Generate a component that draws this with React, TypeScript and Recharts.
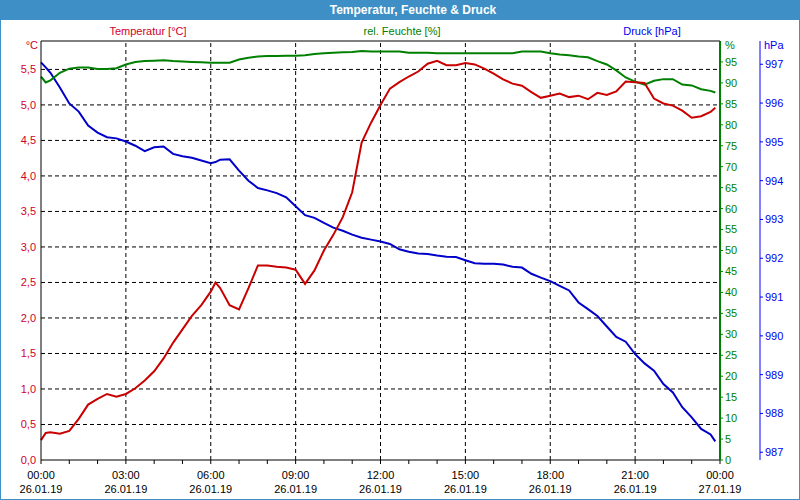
import React from 'react';
import { LineChart, Line, XAxis, YAxis, ReferenceLine } from 'recharts';

// time of day in minutes after 26.01.19 00:00
const timeMinutes = [
  0, 10, 20, 40, 60, 80, 100, 120, 140, 160,
  180, 200, 220, 240, 260, 280, 300, 320, 340, 360,
  370, 380, 400, 420, 440, 460, 480, 500, 520, 540,
  560, 580, 600, 620, 640, 660, 680, 700, 720, 740,
  760, 780, 800, 820, 840, 860, 880, 900, 920, 940,
  960, 980, 1000, 1020, 1040, 1060, 1080, 1100, 1120, 1140,
  1160, 1180, 1200, 1220, 1240, 1260, 1280, 1300, 1320, 1340,
  1360, 1380, 1400, 1420, 1430,
];

const temperature = [
  0.28, 0.38, 0.39, 0.37, 0.41, 0.58, 0.78, 0.86, 0.93, 0.89,
  0.93, 1.01, 1.12, 1.25, 1.43, 1.65, 1.84, 2.03, 2.18, 2.37,
  2.5, 2.42, 2.18, 2.12, 2.42, 2.74, 2.74, 2.72, 2.71, 2.68,
  2.48, 2.67, 2.95, 3.17, 3.42, 3.77, 4.47, 4.75, 5.0, 5.23,
  5.32, 5.4, 5.47, 5.58, 5.62, 5.56, 5.56, 5.59, 5.57, 5.51,
  5.44, 5.36, 5.3, 5.27, 5.18, 5.1, 5.13, 5.16, 5.11, 5.13,
  5.08, 5.17, 5.14, 5.19, 5.33, 5.32, 5.31, 5.09, 5.02, 4.99,
  4.92, 4.82, 4.84, 4.9, 4.96,
];

const humidity = [
  91.5, 90.1, 90.6, 92.4, 93.4, 93.7, 93.7, 93.3, 93.3, 93.5,
  94.4, 95.0, 95.2, 95.3, 95.4, 95.2, 95.1, 95.0, 94.9, 94.8,
  94.8, 94.8, 94.8, 95.6, 96.0, 96.3, 96.4, 96.4, 96.5, 96.5,
  96.6, 96.9, 97.1, 97.2, 97.3, 97.4, 97.6, 97.5, 97.5, 97.5,
  97.5, 97.2, 97.2, 97.2, 97.1, 97.1, 97.1, 97.1, 97.1, 97.1,
  97.1, 97.1, 97.1, 97.5, 97.5, 97.5, 97.1, 96.8, 96.6, 96.3,
  96.1, 95.2, 94.4, 93.0, 91.3, 90.3, 89.6, 90.5, 90.9, 90.9,
  89.6, 89.4, 88.5, 88.1, 87.7,
];

const pressure = [
  997.05, 996.92, 996.78, 996.4, 995.99, 995.78, 995.42, 995.24, 995.12, 995.09,
  995.01, 994.9, 994.76, 994.86, 994.88, 994.69, 994.63, 994.59, 994.52, 994.45,
  994.48, 994.54, 994.55, 994.26, 994.0, 993.81, 993.75, 993.68, 993.57, 993.34,
  993.11, 993.04, 992.91, 992.79, 992.71, 992.61, 992.53, 992.48, 992.43, 992.37,
  992.23, 992.17, 992.12, 992.11, 992.07, 992.04, 992.03, 991.95, 991.87, 991.86,
  991.86, 991.84, 991.78, 991.76, 991.6, 991.5, 991.41, 991.29, 991.17, 990.86,
  990.69, 990.51, 990.24, 989.97, 989.85, 989.53, 989.29, 989.1, 988.76, 988.54,
  988.16, 987.9, 987.6, 987.46, 987.28,
];

const hourTicks = [
  0, 60, 120, 180, 240, 300, 360, 420, 480, 540, 600, 660, 720,
  780, 840, 900, 960, 1020, 1080, 1140, 1200, 1260, 1320, 1380, 1440,
];
const labelMinutes = [0, 180, 360, 540, 720, 900, 1080, 1260, 1440];
const timeLabels = ['00:00', '03:00', '06:00', '09:00', '12:00', '15:00', '18:00', '21:00', '00:00'];
const dateLabels = ['26.01.19', '26.01.19', '26.01.19', '26.01.19', '26.01.19', '26.01.19', '26.01.19', '26.01.19', '27.01.19'];
const gridMinutes = [180, 360, 540, 720, 900, 1080, 1260];

const tempTicks = [0, 0.5, 1, 1.5, 2, 2.5, 3, 3.5, 4, 4.5, 5, 5.5];
const humTicks = [0, 5, 10, 15, 20, 25, 30, 35, 40, 45, 50, 55, 60, 65, 70, 75, 80, 85, 90, 95];
const presTicks = [987, 988, 989, 990, 991, 992, 993, 994, 995, 996, 997];

const tempDomain = [0, 5.9];
const humDomain = [0, 100];
const presDomain = [986.8, 997.6];

const data = timeMinutes.map((t, i) => ({
  t,
  temp: temperature[i],
  hum: humidity[i],
  pres: pressure[i],
}));

const FONT = '"Liberation Sans", Arial, sans-serif';
const RED_TEXT = '#d0002a';
const RED = '#c80000';
const GREEN = '#008000';
const BLUE_TEXT = '#0000f0';
const BLUE = '#0000c8';
const FRAME = '#3d8fc6';

const TimeTick = (props: any) => {
  const { x, y, payload } = props;
  const i = labelMinutes.indexOf(payload.value);
  if (i < 0) return <g />;
  return (
    <g>
      <text x={x} y={y} dy={13} textAnchor="middle" fontSize={11} fontFamily={FONT} fill="#000">
        {timeLabels[i]}
      </text>
      <text x={x} y={y} dy={27} textAnchor="middle" fontSize={11} fontFamily={FONT} fill="#000">
        {dateLabels[i]}
      </text>
    </g>
  );
};

const textStyle = (left: number, top: number, width: number, color: string, align: any): React.CSSProperties => ({
  position: 'absolute',
  left,
  top,
  width,
  height: 14,
  lineHeight: '14px',
  fontSize: 11,
  fontFamily: FONT,
  color,
  textAlign: align,
  whiteSpace: 'nowrap',
});

export default function App() {
  return (
    <div
      style={{
        position: 'fixed',
        left: 0,
        top: 0,
        width: 800,
        height: 500,
        background: '#fff',
        overflow: 'hidden',
      }}
    >
      <div style={{ position: 'absolute', left: 0, top: 0 }}>
        <LineChart width={800} height={500} data={data} margin={{ top: 41, right: 0, bottom: 0, left: 0 }}>
          <XAxis
            dataKey="t"
            type="number"
            domain={[0, 1440]}
            ticks={hourTicks}
            interval={0}
            height={40}
            tickSize={4}
            tickMargin={2}
            axisLine={{ stroke: '#000', strokeWidth: 1 }}
            tickLine={{ stroke: '#000' }}
            tick={<TimeTick />}
          />
          <YAxis
            yAxisId="temp"
            orientation="left"
            width={41}
            domain={tempDomain}
            ticks={tempTicks}
            interval={0}
            allowDataOverflow
            tickLine={false}
            tickSize={4}
            tickMargin={1}
            axisLine={{ stroke: '#000' }}
            tick={{ fill: RED_TEXT, fontSize: 11, fontFamily: FONT }}
            tickFormatter={(v: number) => v.toFixed(1).replace('.', ',')}
          />
          <YAxis
            yAxisId="hum"
            orientation="right"
            width={40}
            domain={humDomain}
            ticks={humTicks}
            interval={0}
            allowDataOverflow
            tickSize={3}
            tickMargin={2}
            axisLine={{ stroke: GREEN, strokeWidth: 2 }}
            tickLine={{ stroke: GREEN }}
            tick={{ fill: GREEN, fontSize: 11, fontFamily: FONT, textAnchor: 'start' }}
          />
          <YAxis
            yAxisId="pres"
            orientation="right"
            width={40}
            domain={presDomain}
            ticks={presTicks}
            interval={0}
            allowDataOverflow
            tickSize={3}
            tickMargin={2}
            axisLine={{ stroke: '#0000ff' }}
            tickLine={{ stroke: '#0000ff' }}
            tick={{ fill: BLUE_TEXT, fontSize: 11, fontFamily: FONT, textAnchor: 'start' }}
          />
          {tempTicks.slice(1).map((v) => (
            <ReferenceLine key={'h' + v} yAxisId="temp" y={v} stroke="#000" strokeDasharray="4 3" />
          ))}
          {gridMinutes.map((m) => (
            <ReferenceLine key={'v' + m} yAxisId="temp" x={m} stroke="#000" strokeDasharray="4 3" />
          ))}
          <ReferenceLine yAxisId="temp" y={tempDomain[1]} stroke="#000" />
          <Line
            yAxisId="pres"
            dataKey="pres"
            type="linear"
            stroke={BLUE}
            strokeWidth={2}
            dot={false}
            activeDot={false}
            isAnimationActive={false}
          />
          <Line
            yAxisId="hum"
            dataKey="hum"
            type="linear"
            stroke={GREEN}
            strokeWidth={2}
            dot={false}
            activeDot={false}
            isAnimationActive={false}
          />
          <Line
            yAxisId="temp"
            dataKey="temp"
            type="linear"
            stroke={RED}
            strokeWidth={2}
            dot={false}
            activeDot={false}
            isAnimationActive={false}
          />
        </LineChart>
      </div>
      <div
        style={{
          position: 'absolute',
          left: 0,
          top: 0,
          width: 800,
          height: 20,
          background: FRAME,
          color: '#fff',
          fontFamily: FONT,
          fontWeight: 'bold',
          fontSize: 12,
          lineHeight: '20px',
        }}
      >
        <div style={{ position: 'absolute', left: 313, width: 200, textAlign: 'center' }}>
          Temperatur, Feuchte &amp; Druck
        </div>
      </div>
      <div style={textStyle(98, 24, 100, RED_TEXT, 'center')}>Temperatur [°C]</div>
      <div style={textStyle(352, 24, 100, GREEN, 'center')}>rel. Feuchte [%]</div>
      <div style={textStyle(602, 24, 100, BLUE_TEXT, 'center')}>Druck [hPa]</div>
      <div style={textStyle(0, 38, 38, RED_TEXT, 'right')}>°C</div>
      <div style={textStyle(725, 38, 30, GREEN, 'left')}>%</div>
      <div style={textStyle(764, 38, 30, BLUE_TEXT, 'left')}>hPa</div>
      <div
        style={{
          position: 'absolute',
          left: 0,
          top: 0,
          width: 800,
          height: 500,
          boxSizing: 'border-box',
          border: `1px solid ${FRAME}`,
          pointerEvents: 'none',
        }}
      />
    </div>
  );
}
